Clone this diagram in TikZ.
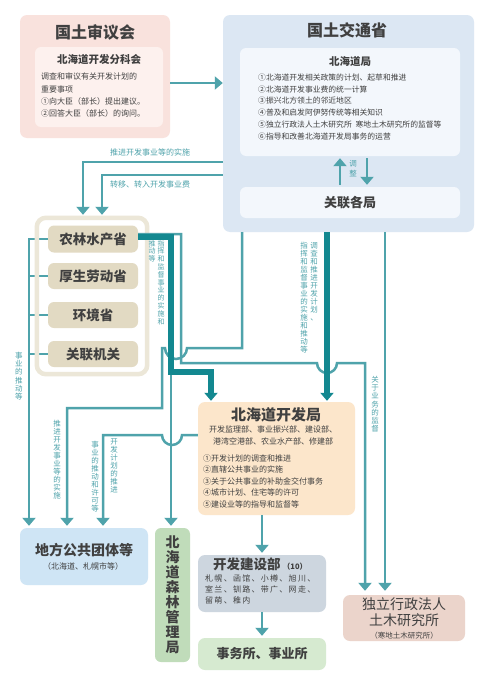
\documentclass[tikz,border=0pt]{standalone}
\usepackage{fontspec}
\setmainfont{Noto Sans CJK SC}
\usepackage{xcolor}
\usetikzlibrary{arrows.meta}
\definecolor{lnc}{HTML}{4FA3AB}
\definecolor{thkc}{HTML}{138890}
\definecolor{txtc}{HTML}{404040}
\definecolor{pinko}{HTML}{F9E2DD}
\definecolor{pinki}{HTML}{FDF1EE}
\definecolor{blueo}{HTML}{DCE7F3}
\definecolor{bluei}{HTML}{F3F7FC}
\definecolor{grpc}{HTML}{ECE7D8}
\definecolor{tanc}{HTML}{E2DAC3}
\definecolor{orgc}{HTML}{FCE6CB}
\definecolor{greyc}{HTML}{CDD6DF}
\definecolor{grnc}{HTML}{D6EAD0}
\definecolor{frstc}{HTML}{C0DCBA}
\definecolor{skyc}{HTML}{CFE5F5}
\definecolor{rosec}{HTML}{EBD4CB}
\pgfdeclarelayer{bg}
\pgfdeclarelayer{mid}
\pgfsetlayers{bg,mid,main}

\begin{document}
\begin{tikzpicture}[
  x=1pt, y=-1pt,
  txt/.style={text=txtc, inner sep=0pt},
  box/.style={rounded corners=7pt, inner sep=0pt},
  pill/.style={box, fill=tanc, rounded corners=6pt, minimum width=90pt, minimum height=27pt,
    font=\fontsize{13.5}{14}\selectfont\bfseries, text=txtc},
  ln/.style={draw=lnc, line width=2.5pt},
  thk/.style={draw=thkc, line width=6pt},
  arr/.style={-{Triangle[width=13pt,length=8pt]}},
  lab/.style={text=lnc, font=\fontsize{8}{9}\selectfont, inner sep=0pt},
  vlab/.style={text=lnc, inner sep=0pt, align=center, anchor=north,
    font=\fontsize{7.5}{8.2}\selectfont}
]
  \begin{pgfonlayer}{bg}
    \fill[white] (0,0) rectangle (483,680);
  \end{pgfonlayer}
  \useasboundingbox (0,0) rectangle (483,680);

  % council
  \node[box, fill=pinko, minimum width=150pt, minimum height=123pt] (shingikai) at (95,76.5) {};
  \node[box, fill=pinki, rounded corners=6pt, minimum width=128pt, minimum height=80pt] (bunka) at (99,87) {};
  \node[txt, font=\fontsize{16}{16}\selectfont\bfseries] at (95,32) {国土审议会};
  \node[txt, font=\fontsize{10.5}{11}\selectfont\bfseries] at (99,60) {北海道开发分科会};
  \node[txt, font=\fontsize{8}{12.3}\selectfont, align=left, anchor=north west] at (41,73)
    {调查和审议有关开发计划的\\重要事项\\①向大臣（部长）提出建议。\\②回答大臣（部长）的询问。};

  % ministry
  \node[box, fill=blueo, minimum width=251pt, minimum height=217pt] (kotsu) at (348.5,123.5) {};
  \node[box, fill=bluei, rounded corners=6pt, minimum width=220pt, minimum height=108pt] (hkdkyoku) at (350,102) {};
  \node[box, fill=bluei, rounded corners=6pt, minimum width=220pt, minimum height=31pt] (kanren) at (350,202.5) {};
  \node[txt, font=\fontsize{16}{16}\selectfont\bfseries] at (347,30) {国土交通省};
  \node[txt, font=\fontsize{10.5}{11}\selectfont\bfseries] at (350,62) {北海道局};
  \node[txt, font=\fontsize{7.8}{11.8}\selectfont, align=left, anchor=north west] at (258,73.5)
    {①北海道开发相关政策的计划、起草和推进\\②北海道开发事业费的统一计算\\③振兴北方领土的邻近地区\\
     ④普及和启发阿伊努传统等相关知识\\⑤独立行政法人土木研究所\enspace 寒地土木研究所的监督等\\
     ⑥指导和改善北海道开发局事务的运营};
  \node[txt, font=\fontsize{13}{13}\selectfont\bfseries] at (350,203) {关联各局};
  \draw[ln, arr, shorten <=2pt, shorten >=2pt] (kanren.north -| 340,0) -- (hkdkyoku.south -| 340,0);
  \draw[ln, arr, shorten <=2pt, shorten >=2pt] (hkdkyoku.south -| 367,0) -- (kanren.north -| 367,0);
  \node[vlab, font=\fontsize{7.5}{10}\selectfont] at (353,160) {调\\整};

  % ministries group
  \begin{pgfonlayer}{bg}
    \node[box, fill=white, rounded corners=9pt, minimum width=110pt, minimum height=156pt] (group) at (92,296) {};
  \end{pgfonlayer}
  \node[pill] (nourin) at (93,239) {农林水产省};
  \node[pill, minimum height=26pt] (kosei) at (93,276) {厚生劳动省};
  \node[pill, minimum height=26pt] (kankyo) at (93,315) {环境省};
  \node[pill, minimum height=26pt] (kikan) at (93,354) {关联机关};

  % lower boxes
  \node[box, fill=orgc, minimum width=157pt, minimum height=113pt] (kaihatsu) at (276.5,458.5) {};
  \node[txt, font=\fontsize{15}{15}\selectfont\bfseries] at (276,415) {北海道开发局};
  \node[txt, font=\fontsize{8}{12.5}\selectfont, align=center, anchor=north] at (273,425.5)
    {开发监理部、事业振兴部、建设部、\\港湾空港部、农业水产部、修建部};
  \node[txt, font=\fontsize{8}{11.5}\selectfont, align=left, anchor=north west] at (203,454.5)
    {①开发计划的调查和推进\\②直辖公共事业的实施\\③关于公共事业的补助金交付事务\\
     ④城市计划、住宅等的许可\\⑤建设业等的指导和监督等};

  \node[box, fill=skyc, minimum width=128pt, minimum height=57pt] (chiho) at (84,556.5) {};
  \node[txt, font=\fontsize{14}{14}\selectfont\bfseries] at (84,550) {地方公共团体等};
  \node[txt, font=\fontsize{8}{8}\selectfont] at (83,566) {（北海道、札幌市等）};

  \node[box, fill=frstc, rounded corners=6pt, minimum width=35pt, minimum height=134pt] (shinrin) at (172.5,595) {};
  \node[txt, font=\fontsize{14}{15}\selectfont\bfseries, align=center, anchor=north] at (172.5,536)
    {北\\海\\道\\森\\林\\管\\理\\局};

  \node[box, fill=greyc, minimum width=128pt, minimum height=57pt] (kensetsu) at (262,583.5) {};
  \node[txt, font=\fontsize{13.5}{14}\selectfont\bfseries, anchor=west] at (213,564)
    {开发建设部\,{\fontsize{7.5}{8}\selectfont（10）}};
  \node[txt, font=\fontsize{8}{11}\selectfont\addfontfeatures{LetterSpace=16}, align=left, anchor=north west] at (205,574.5)
    {札幌、函馆、小樽、旭川、\\室兰、钏路、带广、网走、\\留萌、稚内};

  \node[box, fill=grnc, minimum width=128pt, minimum height=32pt] (jimusho) at (262,654) {};
  \node[txt, font=\fontsize{13}{13}\selectfont\bfseries] at (262,654) {事务所、事业所};

  \node[box, fill=rosec, minimum width=122pt, minimum height=46pt] (doboku) at (404,618) {};
  \node[txt, font=\fontsize{14}{16.5}\selectfont, align=center, anchor=north] at (404,597)
    {独立行政法人\\土木研究所};
  \node[txt, font=\fontsize{7.5}{8}\selectfont] at (404,636) {（寒地土木研究所）};

  % council to ministry
  \draw[ln, arr] (shingikai.east |- 0,83) -- (kotsu.west |- 0,83);

  % ministry to ministries group
  \draw[ln, arr, shorten >=3pt] (kotsu.west |- 0,162) -| (group.north -| 83,0);
  \node[lab] at (150,152) {推进开发事业等的实施};
  \draw[ln, arr, shorten >=3pt] (kotsu.west |- 0,175) -| (group.north -| 102,0);
  \node[lab] at (150,184) {转移、转入开发事业费};

  % left column
  \begin{pgfonlayer}{mid}
    \draw[ln, arr, shorten >=2pt] (nourin.west) -| (chiho.north -| 29,0);
    \draw[ln] (kosei.west) -- (kosei.west -| 29,0);
    \draw[ln] (kankyo.west) -- (kankyo.west -| 29,0);
    \draw[ln] (kikan.west) -- (kikan.west -| 29,0);
    \draw[grpc, line width=4.5pt, rounded corners=9pt] (group.north west) rectangle (group.south east);
  \end{pgfonlayer}
  \node[vlab] at (19,352) {事\\业\\的\\推\\动\\等};

  % thin lines
  \draw[ln, arr, shorten >=2pt] (171,237) -- (shinrin.north -| 171,0);
  \draw[ln, arr, shorten >=4pt] (nourin.east |- 0,234) -- (181,234) -- (181,363)
    -- (317,363) arc[start angle=180, end angle=0, radius=10] -- (365,363) -- (doboku.north -| 365,0);
  \draw[ln, arr, shorten >=2pt] (kotsu.south -| 242,0) -- (242,348) -- (187,348)
    arc[start angle=0, end angle=180, radius=11] -- (162,348) -- (162,408) -- (67,408) -- (chiho.north -| 67,0);
  \draw[ln, arr, shorten >=2pt] (kaihatsu.west |- 0,435) -- (182,435)
    arc[start angle=0, end angle=180, radius=10] -- (103,435) -- (chiho.north -| 103,0);
  \draw[ln, arr, shorten >=4pt] (kotsu.south -| 385,0) -- (doboku.north -| 385,0);

  % thick lines
  \draw[thk, arr, shorten >=1pt] (nourin.east |- 0,237) -| (171,372) -| (kaihatsu.north -| 211,0);
  \draw[thk, arr, shorten >=1pt] (kotsu.south -| 327,0) -- (kaihatsu.north -| 327,0);

  % lower arrows
  \draw[ln, arr, shorten >=2pt] (kaihatsu.south -| kensetsu.north) -- (kensetsu.north);
  \draw[ln, arr, shorten >=2pt] (kensetsu.south) -- (jimusho.north);

  % labels on lines
  \node[vlab, font=\fontsize{7}{7.8}\selectfont] at (161,240) {指\\挥\\和\\监\\督\\事\\业\\的\\实\\施\\和};
  \node[vlab, font=\fontsize{7}{7.8}\selectfont] at (152,240) {推\\动\\等};
  \node[vlab, font=\fontsize{7.5}{8}\selectfont] at (314,242) {调\\查\\和\\推\\进\\开\\发\\计\\划\\、};
  \node[vlab, font=\fontsize{7.5}{8}\selectfont] at (304,242) {指\\挥\\和\\监\\督\\事\\业\\的\\实\\施\\和\\推\\动\\等};
  \node[vlab] at (375,376) {关\\于\\业\\务\\的\\监\\督};
  \node[vlab, font=\fontsize{7.5}{8}\selectfont] at (57,420) {推\\进\\开\\发\\事\\业\\等\\的\\实\\施};
  \node[vlab, font=\fontsize{7.5}{8}\selectfont] at (95,441) {事\\业\\的\\推\\动\\和\\许\\可\\等};
  \node[vlab, font=\fontsize{7.5}{8}\selectfont] at (114,438) {开\\发\\计\\划\\的\\推\\进};
\end{tikzpicture}
\end{document}
